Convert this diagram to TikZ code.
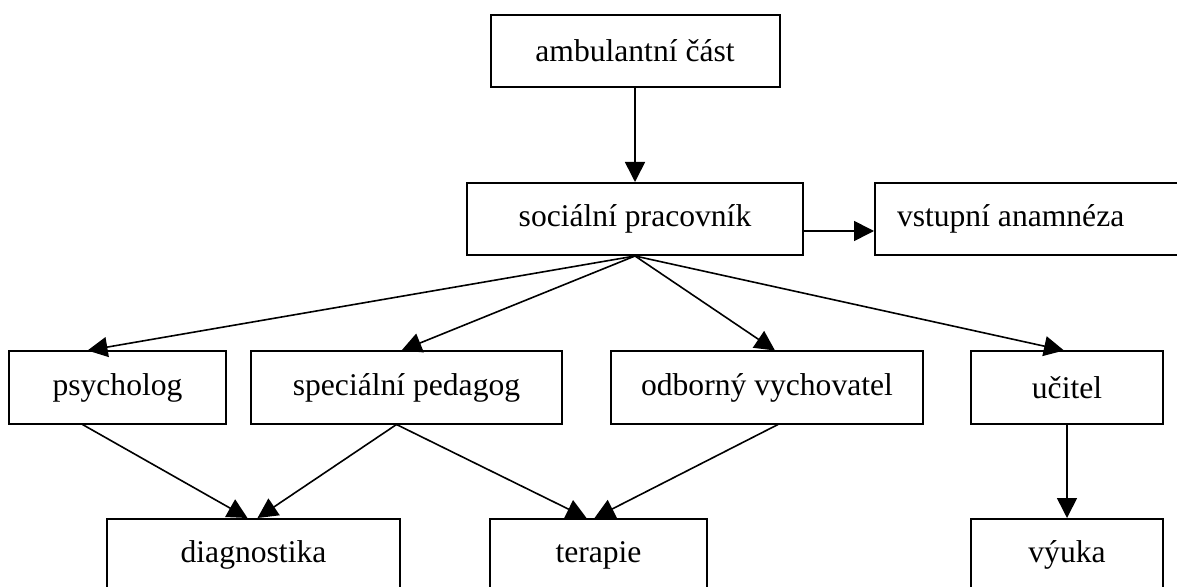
\documentclass[tikz,border=0pt]{standalone}
\usepackage{fontspec}
\setmainfont{Liberation Serif}
\usetikzlibrary{calc,arrows.meta}

\begin{document}
\begin{tikzpicture}[x=0.5pt, y=-0.5pt, >={Triangle[length=10pt, width=10pt]},
        box/.style={draw, line width=1pt, inner sep=0pt, minimum height=36pt, font=\fontsize{15.8}{19}\selectfont},
        arr/.style={->, line width=0.8pt}]
            \useasboundingbox (0, 0) rectangle (1177, 587);
            \clip (0, 0) rectangle (1177, 587);
            \node[box, minimum width=144.5pt] (amb) at (635, 51) {ambulantní část};
            \node[box, minimum width=168pt] (soc) at (635, 219) {sociální pracovník};
            \node[box, anchor=west, text width=148pt, align=flush left, inner xsep=11pt] (vst) at (874, 219) {vstupní anamnéza};
            \node[box, minimum width=108.5pt] (psy) at (117.5, 387.5) {psycholog};
            \node[box, minimum width=155.5pt] (spec) at (406.5, 387.5) {speciální pedagog};
            \node[box, minimum width=156pt] (odb) at (767, 387.5) {odborný vychovatel};
            \node[box, minimum width=96pt] (uc) at (1067, 387.5) {učitel};
            \node[box, minimum width=146.5pt] (diag) at (253.5, 555) {diagnostika};
            \node[box, minimum width=108.5pt] (ter) at (598.5, 555) {terapie};
            \node[box, minimum width=96pt] (vyu) at (1067, 555) {výuka};
            \draw[arr] (amb) -- (soc);
            \draw[arr] ($(soc.east)+(0, 12)$) -- ($(vst.west)+(0, 12)$);
            \draw[arr] (soc.south) -- ($(psy.north)+(-30, 0)$);
            \draw[arr] (soc.south) -- ($(spec.north)+(-5, 0)$);
            \draw[arr] (soc.south) -- ($(odb.north)+(8, 0)$);
            \draw[arr] (soc.south) -- ($(uc.north)+(-3, 0)$);
            \coordinate (psyfoot) at ($(psy.south)+(-35, 0)$);
            \coordinate (specfoot) at ($(spec.south)+(-10, 0)$);
            \coordinate (odbfoot) at ($(odb.south)+(11, 0)$);
	    \draw[arr] (psyfoot) -- ($(diag.north)+(-6, 0)$);
	    \draw[arr] (specfoot) -- ($(diag.north)+(4, 0)$);
	    \draw[arr] (specfoot) -- ($(ter.north)+(-12, 0)$);
	    \draw[arr] (odbfoot) -- ($(ter.north)+(-4, 0)$);
    \draw[arr] (uc) -- (vyu);
        \end{tikzpicture}
\end{document}
